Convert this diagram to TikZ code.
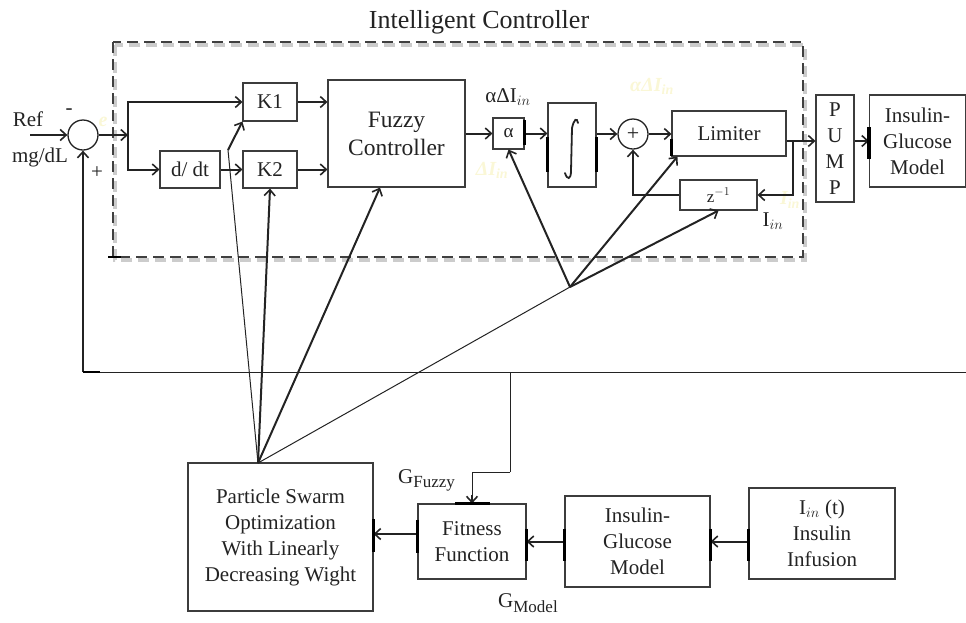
\documentclass[tikz,border=0pt]{standalone}
\usepackage{fontspec}
\setmainfont{Liberation Serif}
\usetikzlibrary{arrows.meta,calc}
\definecolor{ink}{RGB}{35,35,35}
\definecolor{edge}{RGB}{60,60,60}
\definecolor{ghost}{RGB}{250,247,214}
\tikzset{
  blk/.style={draw=edge, line width=1.1pt, fill=white, inner sep=0pt, align=center,
              font=\fontsize{21}{26}\selectfont, text=ink},
  sumnode/.style={circle, draw=ink, line width=1.3pt, minimum size=30pt, inner sep=0pt,
              font=\fontsize{22}{26}\selectfont, text=ink},
  sig/.style={draw=ink, line width=2pt, -{Straight Barb[length=6pt,width=11pt,line width=1.6pt]}},
  wire/.style={draw=ink, line width=2pt},
  thinwire/.style={draw=ink, line width=1pt},
  lbl/.style={text=ink, inner sep=0pt, font=\fontsize{21}{26}\selectfont},
  port/.style={draw=black, line width=3.2pt},
  glyph/.style={draw=ink, line width=1.8pt, line cap=round},
  ghosttext/.style={text=ghost, inner sep=0pt, font=\fontsize{20}{24}\selectfont\bfseries\itshape},
}
\begin{document}
\begin{tikzpicture}[x=1pt,y=-1pt]
\useasboundingbox (0,0) rectangle (966,622);

% controller frame with its soft shadow
\draw[gray!40, line width=3.5pt, dash pattern=on 11pt off 6pt] (115,45) rectangle (805,260);
\draw[black!75, line width=1.4pt, dash pattern=on 11pt off 6pt] (113,42) rectangle (803,257);
\draw[black, line width=2pt] (108,257) -- (121,257);
\node[lbl, font=\fontsize{26}{30}\selectfont] (title) at (479,22) {Intelligent Controller};

% faint background annotations
\node[ghosttext] (g1) at (103,122) {e};
\node[ghosttext] (g2) at (652,86) {αΔ\textit{I}\textsubscript{in}};
\node[ghosttext] (g3) at (492,170) {Δ\textit{I}\textsubscript{in}};
\node[ghosttext] (g4) at (790,200) {\textit{I}\textsubscript{in}};

% controller blocks
\node[sumnode] (sum) at (83,135) {};
\node[blk, minimum width=54pt, minimum height=38pt] (k1) at (270,102) {K1};
\node[blk, minimum width=60pt, minimum height=37pt] (ddt) at (190,169.5) {d/ dt};
\node[blk, minimum width=54pt, minimum height=37pt] (k2) at (270,169.5) {K2};
\node[blk, minimum width=137pt, minimum height=107pt, font=\fontsize{23.5}{28}\selectfont] (fuzzy) at (396.5,133.5) {Fuzzy\\Controller};
\node[blk, minimum width=31pt, minimum height=31pt, font=\fontsize{19}{22}\selectfont] (alpha) at (508.5,133.5) {α};
\node[blk, minimum width=48pt, minimum height=84pt] (integ) at (572,145) {};
\node[sumnode] (plus) at (633,134) {+};
\node[blk, minimum width=114pt, minimum height=45pt] (lim) at (729,133.5) {Limiter};
\node[blk, minimum width=77pt, minimum height=30pt, font=\fontsize{17}{20}\selectfont] (zinv) at (718.5,195) {z$^{-1}$};
\node[blk, minimum width=38pt, minimum height=107pt] (pump) at (835,148.5) {P\\U\\M\\P};
\node[blk, minimum width=96pt, minimum height=92pt] (plant) at (917.5,141) {Insulin-\\Glucose\\Model};

% integral sign inside the integrator block
\draw[glyph] ([shift={(6,-22)}]integ.center)
  .. controls +(-1,-6) and +(2,-9) .. ([shift={(0,-17)}]integ.center)
  -- ([shift={(-1,26)}]integ.center)
  .. controls +(0,9) and +(2,7) .. ([shift={(-7,28)}]integ.center);

% optimisation blocks
\node[blk, minimum width=185pt, minimum height=148pt] (pso) at (280.5,537) {Particle Swarm\\Optimization\\With Linearly\\Decreasing Wight};
\node[blk, minimum width=108pt, minimum height=75pt] (fit) at (472,541.5) {Fitness\\Function};
\node[blk, minimum width=145pt, minimum height=91pt] (model) at (637.5,541.5) {Insulin-\\Glucose\\Model};
\node[blk, minimum width=146pt, minimum height=91pt] (iin) at (822,533.5) {I$_{in}$ (t)\\Insulin\\Infusion};

% labels
\node[lbl] (ref) at (28,119) {Ref};
\node[lbl] (minus) at (69,112) {-};
\node[lbl] (unit) at (40,157) {mg/dL};
\node[lbl] (plusl) at (97,173) {+};
\node[lbl] (dil) at (508,97) {αΔI$_{in}$};
\node[lbl] (iinl) at (773,221) {I$_{in}$};
\node[lbl, anchor=west] (gf) at (398,480) {G\textsubscript{\fontsize{17}{20}\selectfont Fuzzy}};
\node[lbl, anchor=west] (gm) at (498,603) {G\textsubscript{\fontsize{17}{20}\selectfont Model}};

% coordinates for junctions
\coordinate (refin) at (30,135);
\coordinate (br) at (128,135);
\coordinate (tap) at (793,141);
\coordinate (fbR) at (966,372);
\coordinate (fbL) at (83,372);
\coordinate (gt) at (510,372);
\coordinate (gc) at (510,472);
\coordinate (fan) at (258,463);
\coordinate (kb) at (228,150);
\coordinate (hub) at (570,287);

% forward path
\draw[sig] (refin) -- (sum.west);
\draw[sig] (sum.east) -- (br);
\draw[sig] (br) |- (k1.west);
\draw[sig] (br) |- (ddt.west);
\draw[sig] (ddt.east) -- (k2.west);
\draw[sig] (k1.east) -- (fuzzy.west |- k1.east);
\draw[sig] (k2.east) -- (fuzzy.west |- k2.east);
\draw[sig] (fuzzy.east) -- (alpha.west);
\draw[sig] (alpha.east) -- (integ.west |- alpha.east);
\draw[sig] (integ.east |- plus.west) -- (plus.west);
\draw[sig] (plus.east) -- (lim.west |- plus.east);
\draw[wire] (lim.east |- tap) -- (tap);
\draw[sig] (tap) -- (pump.west |- tap);
\draw[sig] (tap) |- (zinv.east);
\draw[sig] (zinv.west) -| (plus.south);
\draw[sig] (pump.east |- plant.west) -- (plant.west);

% feedback of the measured glucose
\draw[thinwire] (fbR) -- (fbL);
\draw[sig] (fbL) -- (sum.south);
\draw[black, line width=2.5pt] (fbL) -- (100,372);
\draw[thinwire] (gt) -- (gc);
\draw[thinwire] (gc) -| ([yshift=8pt]fit.north);
\draw[sig] ([yshift=8pt]fit.north) -- (fit.north);

% optimisation chain
\draw[sig] (iin.west |- model.west) -- (model.east);
\draw[sig] (model.west) -- (fit.east);
\draw[sig] ([yshift=7.5pt]fit.west) -- ([yshift=7.5pt]pso.east |- fit.west);

% tuning links from the optimiser
\draw[thinwire] (fan) -- (kb);
\draw[sig] (kb) -- (k1.south west);
\draw[sig] (fan) -- (k2.south);
\draw[sig] (fan) -- ([xshift=-16.5pt]fuzzy.south);
\draw[thinwire] (fan) -- (hub);
\draw[sig] (hub) -- (alpha.south);
\draw[sig] (hub) -- ([xshift=6pt]lim.south west);
\draw[sig] (hub) -- (zinv.south);

% heavy port marks on block edges
\draw[port] (alpha.north east) ++(0,3) -- ++(0,25);
\draw[port] ([yshift=-27pt]integ.west) -- ([yshift=8pt]integ.west);
\draw[port] ([yshift=-27pt]integ.east) -- ([yshift=8pt]integ.east);
\draw[port] ([yshift=-5pt]lim.west) -- ([yshift=-22pt]lim.west);
\draw[port] ([yshift=14pt]plant.west) -- ([yshift=-18pt]plant.west);
\draw[port] ([yshift=18pt]pso.east) -- ([yshift=-15pt]pso.east);
\draw[port] ([yshift=22pt]fit.west) -- ([yshift=-11pt]fit.west);
\draw[port] ([xshift=-17pt]fit.north) -- ([xshift=18pt]fit.north);
\draw[port] ([yshift=13pt]fit.east) -- ([yshift=-19pt]fit.east);
\draw[port] ([yshift=13pt]model.west) -- ([yshift=-19pt]model.west);
\draw[port] ([yshift=13pt]model.east) -- ([yshift=-19pt]model.east);
\draw[port] ([yshift=5pt]iin.west) -- ([yshift=-27pt]iin.west);
\end{tikzpicture}
\end{document}
